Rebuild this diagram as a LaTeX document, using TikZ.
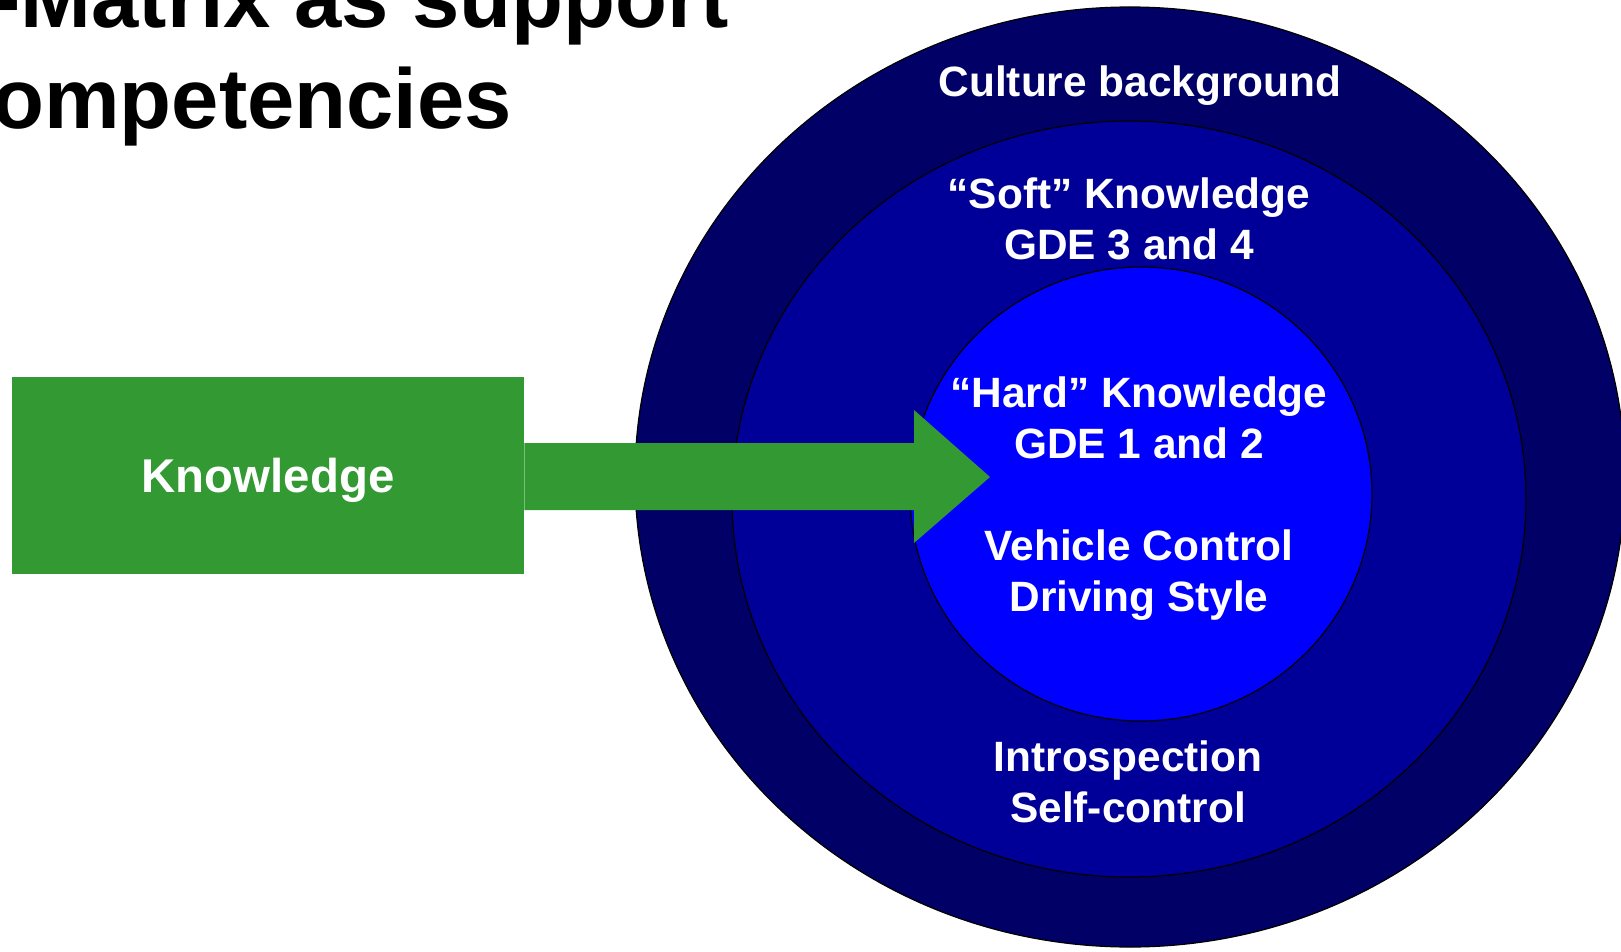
\documentclass[tikz,border=0pt]{standalone}
\usepackage{fontspec}
\setmainfont{Liberation Sans}
\usetikzlibrary{positioning}
\definecolor{ringdark}{RGB}{0,0,102}
\definecolor{ringmid}{RGB}{0,0,153}
\definecolor{ringcore}{RGB}{0,0,255}
\definecolor{knowgreen}{RGB}{51,153,51}
\tikzset{ring/.style = {draw=black, line width=0.6pt},
         ringtext/.style = {text=white, align=center, inner sep=0pt,
                            font=\fontsize{21.2}{25.3}\selectfont\bfseries},
         titletext/.style = {anchor=base west, inner sep=0pt,
                             font=\fontsize{42.5}{50.5}\selectfont\bfseries}}

\begin{document}
\begin{tikzpicture}[x=0.5pt, y=-0.5pt]
    \useasboundingbox (0,0) rectangle (1621,952);
    \clip (0,0) rectangle (1621,952);

    % title, cut by the page edge
    \node[titletext] (title1) at (-8,28) {-Matrix as support};
    \node[titletext] (title2) at (-8,129) {ompetencies};

    % the three rings
    \draw[ring, fill=ringdark] (1130,477) ellipse [x radius=495, y radius=470];
    \draw[ring, fill=ringmid] (1129,499) ellipse [x radius=397, y radius=378];
    \draw[ring, fill=ringcore] (1141,494) ellipse [x radius=231, y radius=227];

    \node[ringtext] (culture) at (1140,86) {Culture background};
    \node[ringtext] (soft) at (1129,219) {“Soft” Knowledge\\GDE 3 and 4};
    \node[ringtext] (hard) at (1139,418) {“Hard” Knowledge\\GDE 1 and 2};
    \node[ringtext] (vehicle) at (1139,575) {Vehicle Control\\Driving Style};
    \node[ringtext] (intro) at (1128,782) {Introspection\\Self-control};

    % knowledge box and its arrow
    \node[fill=knowgreen, minimum width=256pt, minimum height=98.5pt, text depth=0pt,
          text=white, font=\fontsize{23.7}{28}\selectfont\bfseries] (know) at (268,475.5) {Knowledge};
    \coordinate (shafttop) at (914,443);
    \coordinate (shaftbot) at (914,510);
    \coordinate (tip) at (990,477);
    \fill[knowgreen] (know.east |- shafttop) -- (shafttop) -- (914,410) -- (tip)
        -- (914,543) -- (shaftbot) -- (know.east |- shaftbot) -- cycle;
\end{tikzpicture}
\end{document}
